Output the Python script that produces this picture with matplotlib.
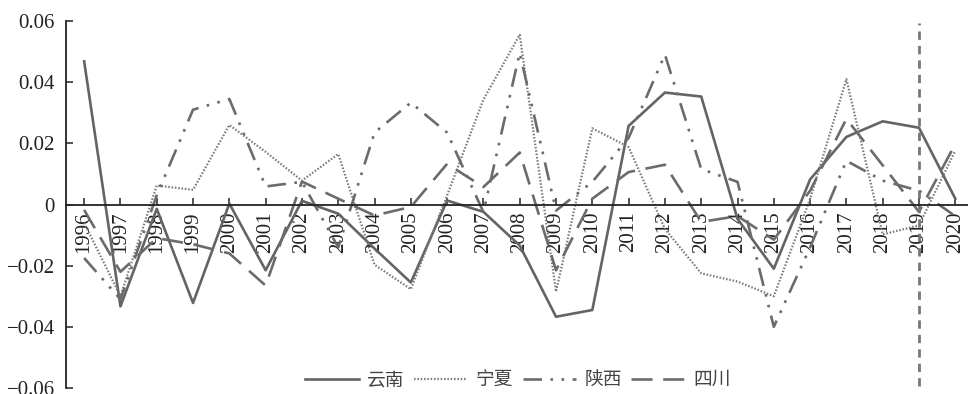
import matplotlib
matplotlib.use("Agg")
import matplotlib.pyplot as plt
from matplotlib.ticker import FuncFormatter

years = [str(y) for y in range(1996, 2021)]

yunnan = [0.0468, -0.0333, -0.0014, -0.0322, 0.0003, -0.0215, 0.0012, -0.0030,
          -0.0144, -0.0255, 0.0013, -0.0024, -0.0134, -0.0367, -0.0345, 0.0257,
          0.0366, 0.0353, -0.0047, -0.0210, 0.0082, 0.0221, 0.0272, 0.0251, 0.0019]
ningxia = [-0.0060, -0.0300, 0.0062, 0.0048, 0.0260, 0.0172, 0.0078, 0.0165,
           -0.0197, -0.0277, 0.0030, 0.0343, 0.0555, -0.0285, 0.0249, 0.0188,
           -0.0080, -0.0225, -0.0252, -0.0300, 0.0018, 0.0410, -0.0098, -0.0068, 0.0176]
shaanxi = [-0.0175, -0.0310, 0.0030, 0.0310, 0.0345, 0.0059, 0.0074, -0.0140,
           0.0235, 0.0333, 0.0235, -0.0025, 0.0496, -0.0020, 0.0074, 0.0218,
           0.0490, 0.0116, 0.0074, -0.0400, -0.0140, 0.0143, 0.0078, 0.0045, -0.0038]
sichuan = [-0.0018, -0.0220, -0.0110, -0.0130, -0.0160, -0.0265, 0.0075, 0.0019,
           -0.0036, -0.0008, 0.0133, 0.0057, 0.0170, -0.0215, 0.0019, 0.0106,
           0.0130, -0.0057, -0.0038, -0.0115, 0.0045, 0.0280, 0.0128, -0.0024, 0.0198]
names = ["云南", "宁夏", "陕西", "四川"]
marker_year = "2019"

plt.rcParams["font.family"] = ["Liberation Serif", "DejaVu Serif"]
plt.rcParams["axes.unicode_minus"] = True

fig = plt.figure(figsize=(9.68, 3.94), dpi=100)
ax = fig.add_axes([66 / 968, 6 / 394, 902 / 968, 367 / 394])

x = list(range(len(years)))
grey = "#6b6b6b"
ax.plot(x, yunnan, color="#646464", lw=1.9, ls="-", label=names[0])
ax.plot(x, ningxia, color="#7a7a7a", lw=1.6, ls=(0, (0.7, 0.8)), label=names[1])
ax.plot(x, shaanxi, color=grey, lw=1.9, ls=(0, (7, 3.2, 1, 3.2, 1, 3.2)), label=names[2])
ax.plot(x, sichuan, color=grey, lw=1.9, ls=(0, (8, 4)), label=names[3])

ax.axvline(years.index(marker_year), ymin=0.005, ymax=0.995, color="#777777",
           lw=2, ls=(0, (3, 2.2)))

ax.set_xlim(-0.5, 24.35)
ax.set_ylim(-0.06, 0.06)
ax.set_yticks([-0.06, -0.04, -0.02, 0, 0.02, 0.04, 0.06])
ax.yaxis.set_major_formatter(FuncFormatter(lambda v, p: "0" if abs(v) < 1e-9 else f"{v:.2f}".replace("-", "\u2212")))
ax.set_xticks(x)
ax.set_xticklabels(years)

ax.spines["top"].set_visible(False)
ax.spines["right"].set_visible(False)
ax.spines["bottom"].set_position(("data", 0))
for s in ("left", "bottom"):
    ax.spines[s].set_color("#222222")
    ax.spines[s].set_linewidth(1.3)
ax.tick_params(axis="x", direction="in", length=5, width=1.1, pad=5,
               labelsize=15, colors="#222222", labelrotation=90)
ax.tick_params(axis="y", direction="in", length=5, width=1.1, pad=8,
               labelsize=15, colors="#222222")
for lab in ax.get_xticklabels():
    lab.set_va("top")
    lab.set_ha("center")

leg = fig.legend(loc="center", bbox_to_anchor=(0.535, 0.036), ncol=4, frameon=False,
                 handlelength=2.85, handletextpad=0.45, columnspacing=0.5,
                 prop={"family": ["Noto Sans CJK SC", "DejaVu Sans"], "size": 13.5})
for t in leg.get_texts():
    t.set_color("#444444")

fig.savefig("out.png", dpi=100)
